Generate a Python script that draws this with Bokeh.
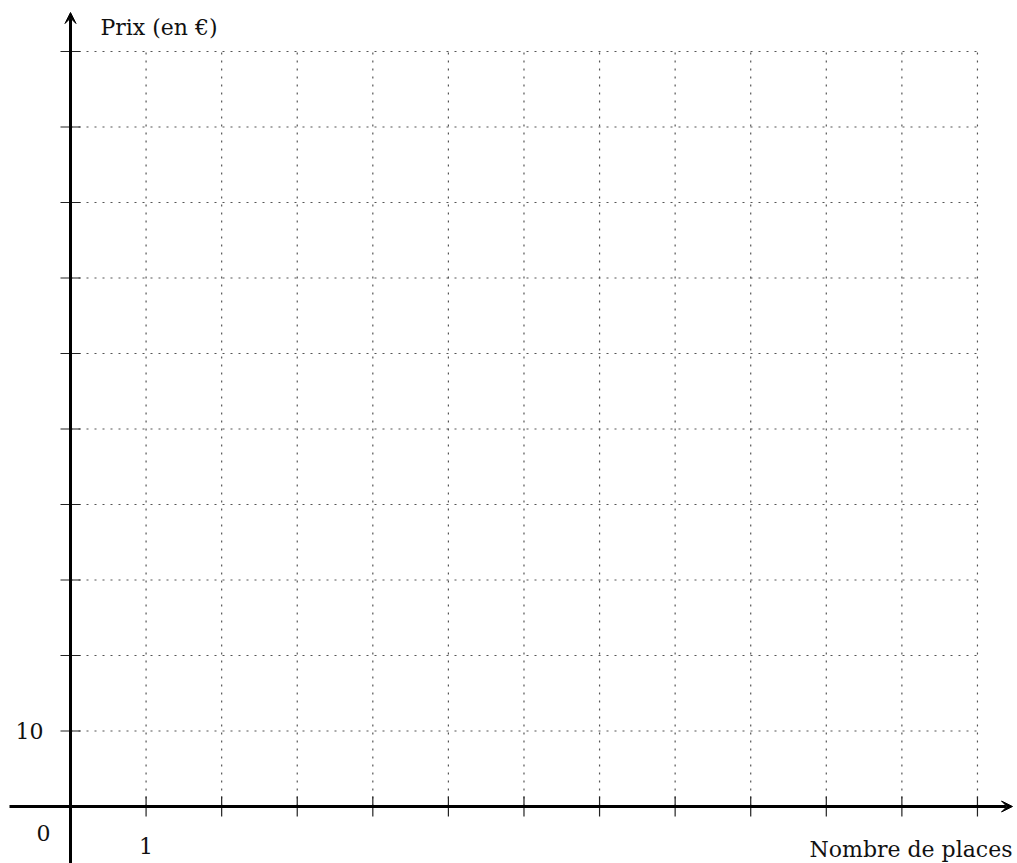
from bokeh.plotting import figure
from bokeh.models import Range1d, Arrow, VeeHead
from bokeh.core.properties import value
from bokeh.embed import file_html
from bokeh.resources import INLINE

# data
x_ticks = list(range(1, 13))          # Nombre de places
y_ticks = list(range(10, 101, 10))    # Prix (en €)
x_max = 12
y_max = 100
x_label = "Nombre de places"
y_label = "Prix (en €)"

W, H = 1017, 863
px_x = 75.58   # pixels per place
px_y = 7.55    # pixels per euro
ox, oy = 70, 806  # origin in canvas pixels

x0 = -ox / px_x
x1 = x0 + W / px_x
y1 = oy / px_y
y0 = y1 - H / px_y

p = figure(width=W, height=H, x_range=Range1d(x0, x1), y_range=Range1d(y0, y1),
           min_border=0, toolbar_location=None, output_backend="svg")
p.axis.visible = False
p.grid.visible = False
p.outline_line_color = None
p.background_fill_color = "white"

grid_col = "#555555"
dash = "2 6"
# vertical grid lines
p.segment(x0=x_ticks, y0=[0]*len(x_ticks), x1=x_ticks, y1=[y_max]*len(x_ticks),
          line_color=grid_col, line_width=1.2, line_dash=dash)
# horizontal grid lines
p.segment(x0=[0]*len(y_ticks), y0=y_ticks, x1=[x_max]*len(y_ticks), y1=y_ticks,
          line_color=grid_col, line_width=1.2, line_dash=dash)

# axes
p.add_layout(Arrow(end=VeeHead(size=11, fill_color="black", line_color="black", line_width=1),
                   x_start=x0 + 9 / px_x, y_start=0, x_end=x1 - 5 / px_x, y_end=0,
                   line_width=3, line_color="black"))
p.add_layout(Arrow(end=VeeHead(size=11, fill_color="black", line_color="black", line_width=1),
                   x_start=0, y_start=y0, x_end=0, y_end=y1 - 12 / px_y,
                   line_width=3, line_color="black"))

# ticks
p.scatter(x=x_ticks, y=[0]*len(x_ticks), marker="dash", size=20, angle=1.5708,
          line_color="#222222", line_width=1.2)
p.scatter(x=[0]*len(y_ticks), y=y_ticks, marker="dash", size=20,
          line_color="#222222", line_width=1.2)

font = value("DejaVu Serif")
fs = "22px"
# tick labels
p.text(x=[0], y=[10], text=["10"], text_align="right", text_baseline="middle",
       x_offset=-27, text_font=font, text_font_size=fs, text_color="#111111")
p.text(x=[0], y=[0], text=["0"], text_align="center", text_baseline="middle",
       x_offset=-27, y_offset=26, text_font=font, text_font_size=fs, text_color="#111111")
p.text(x=[1], y=[0], text=["1"], text_align="center", text_baseline="middle",
       y_offset=39, text_font=font, text_font_size=fs, text_color="#111111")
# axis labels
p.text(x=[0], y=[y_max], text=[y_label], text_align="left", text_baseline="middle",
       x_offset=30, y_offset=-24, text_font=font, text_font_size=fs, text_color="#111111")
p.text(x=[x_max], y=[0], text=[x_label], text_align="right", text_baseline="middle",
       x_offset=35, y_offset=43, text_font=font, text_font_size=fs, text_color="#111111")

open("out.html", "w").write(file_html(p, INLINE))
